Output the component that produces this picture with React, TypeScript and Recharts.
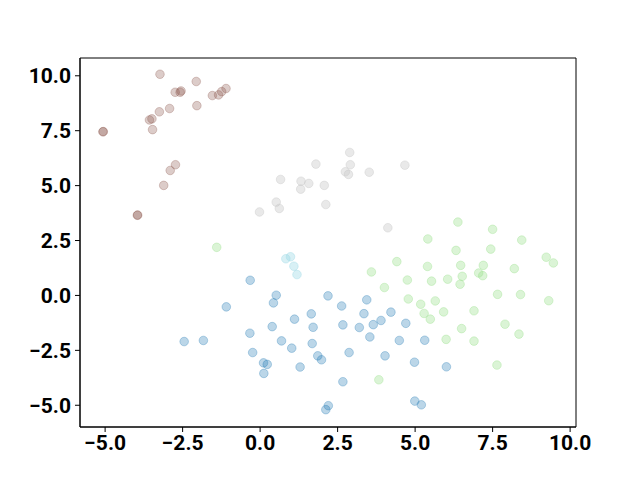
import React from 'react';
import { ScatterChart, Scatter, XAxis, YAxis, ReferenceArea } from 'recharts';

const X_DOMAIN: [number, number] = [-5.81, 10.19];
const Y_DOMAIN: [number, number] = [-5.99, 10.81];
const X_TICKS = [-5, -2.5, 0, 2.5, 5, 7.5, 10];
const Y_TICKS = [-5, -2.5, 0, 2.5, 5, 7.5, 10];

const bluePts = [
  [-0.32, 0.69], [0.52, 0.01], [0.43, -0.34], [-1.09, -0.52], [2.19, -0.02], [1.65, -0.84],
  [1.11, -1.08], [0.39, -1.42], [1.71, -1.45], [-0.33, -1.72], [0.69, -2.07], [1.68, -2.19],
  [1.02, -2.4], [-2.45, -2.1], [-1.83, -2.05], [-0.24, -2.6], [1.86, -2.75], [1.98, -2.93],
  [0.11, -3.07], [0.23, -3.14], [0.12, -3.55], [1.29, -3.26], [2.12, -5.2], [2.2, -5.02],
  [2.63, -0.48], [3.44, -0.2], [3.35, -0.83], [4.22, -0.76], [2.67, -1.34], [3.2, -1.46],
  [3.65, -1.33], [3.9, -1.14], [4.7, -1.27], [3.54, -1.89], [4.49, -2.05], [5.31, -2.04],
  [2.87, -2.6], [4.03, -2.75], [4.98, -3.04], [6.01, -3.25], [2.67, -3.93], [4.99, -4.81],
  [5.2, -4.98],
];

const greenPts = [
  [-1.4, 2.19], [3.59, 1.07], [4.41, 1.54], [4.75, 0.7], [4.01, 0.36], [3.83, -3.84],
  [5.41, 2.57], [6.38, 3.34], [7.5, 3.01], [8.44, 2.52], [6.32, 2.05], [7.44, 2.11],
  [9.23, 1.74], [9.46, 1.48], [5.4, 1.32], [6.47, 1.37], [7.2, 1.37], [8.2, 1.22],
  [7.05, 1.02], [7.18, 0.9], [6.52, 0.87], [6.45, 0.51], [6.05, 0.74], [5.53, 0.65],
  [7.66, 0.05], [8.4, 0.04], [9.31, -0.24], [4.78, -0.16], [5.18, -0.4], [5.65, -0.25],
  [5.29, -0.82], [5.49, -1.08], [5.92, -0.75], [6.9, -0.7], [7.9, -1.31], [6.5, -1.51],
  [8.35, -1.76], [6.0, -2.0], [6.9, -2.08], [7.64, -3.17],
];

const grayPts = [
  [2.89, 6.51], [1.8, 5.98], [2.91, 5.95], [4.67, 5.93], [2.75, 5.63], [2.85, 5.51],
  [3.52, 5.61], [0.66, 5.28], [1.32, 5.2], [1.57, 5.1], [1.31, 4.84], [2.07, 5.01],
  [0.52, 4.25], [0.62, 3.96], [-0.02, 3.8], [2.12, 4.14], [4.12, 3.08],
];

const cyanPts = [[0.83, 1.67], [0.98, 1.76], [1.09, 1.33], [1.19, 0.95]];

const brownPts = [
  [-3.23, 10.07], [-2.06, 9.74], [-2.74, 9.25], [-2.55, 9.31], [-2.58, 9.25], [-1.1, 9.42],
  [-1.24, 9.28], [-1.34, 9.13], [-1.54, 9.1], [-2.04, 8.64], [-2.92, 8.51], [-3.25, 8.36],
  [-3.49, 8.04], [-3.57, 7.99], [-3.47, 7.55], [-5.07, 7.45], [-5.06, 7.46], [-2.73, 5.95],
  [-2.9, 5.69], [-3.11, 5.01], [-3.96, 3.65], [-3.95, 3.66],
];

const toXY = (pts: number[][]) => pts.map(([x, y]) => ({ x, y }));

const SERIES = [
  { name: 'blue', pts: bluePts, color: '#1f77b4', alpha: 0.3 },
  { name: 'green', pts: greenPts, color: '#98df8a', alpha: 0.35 },
  { name: 'gray', pts: grayPts, color: '#c7c7c7', alpha: 0.4 },
  { name: 'cyan', pts: cyanPts, color: '#9edae5', alpha: 0.4 },
  { name: 'brown', pts: brownPts, color: '#8c564b', alpha: 0.3 },
];

const fmt = (v: number) => v.toFixed(1).replace('-', '\u2212');

const tickStyle = { fill: '#000', fontSize: 21, fontWeight: 700, fontFamily: 'Roboto' };

const Dot = (color: string, alpha: number) => (props: any) => {
  const { cx, cy } = props;
  if (cx == null || cy == null) return null;
  return (
    <circle cx={cx} cy={cy} r={4.3} fill={color} fillOpacity={alpha} stroke={color} strokeOpacity={alpha} strokeWidth={1} />
  );
};

export default function App() {
  return (
    <div style={{ position: 'absolute', left: 0, top: 0, width: 640, height: 480, background: '#fff' }}>
      <ScatterChart width={640} height={480} margin={{ top: 58, right: 64, left: 0, bottom: 0 }}>
        <XAxis
          type="number"
          dataKey="x"
          domain={X_DOMAIN}
          ticks={X_TICKS}
          allowDataOverflow
          tickFormatter={fmt}
          height={53}
          tick={tickStyle}
          tickSize={5}
          tickMargin={3}
          stroke="#000"
          tickLine={{ stroke: '#000' }}
        />
        <YAxis
          type="number"
          dataKey="y"
          domain={Y_DOMAIN}
          ticks={Y_TICKS}
          allowDataOverflow
          tickFormatter={fmt}
          width={80}
          tick={tickStyle}
          tickSize={5}
          tickMargin={4}
          stroke="#000"
          tickLine={{ stroke: '#000' }}
        />
        <ReferenceArea x1={X_DOMAIN[0]} x2={X_DOMAIN[1]} y1={Y_DOMAIN[0]} y2={Y_DOMAIN[1]} fill="none" stroke="#000" strokeWidth={1} />
        {SERIES.map((s) => (
          <Scatter
            key={s.name}
            name={s.name}
            data={toXY(s.pts)}
            shape={Dot(s.color, s.alpha)}
            isAnimationActive={false}
          />
        ))}
      </ScatterChart>
    </div>
  );
}
